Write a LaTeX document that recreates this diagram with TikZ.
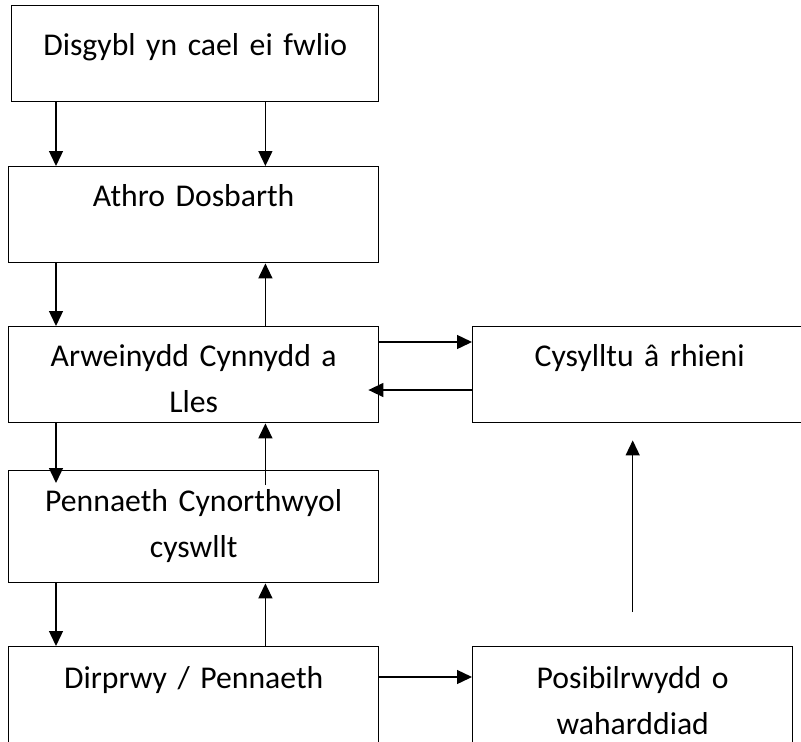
\documentclass[tikz,border=0pt]{standalone}
\usepackage{fontspec}
\setmainfont{Carlito}
\usetikzlibrary{arrows.meta}

\tikzset{stage/.style={draw, line width=1.4pt, inner sep=0pt, anchor=north west,
    text width=#1, align=center, text height=40pt, text depth=56pt},
  stage/.default=370pt}

\begin{document}
\begin{tikzpicture}[x=1pt, y=-1pt, line width=1.4pt,
    font=\fontsize{31.7pt}{46pt}\selectfont,
    >={Triangle[length=15pt,width=14pt]}]
            \useasboundingbox (0,0) rectangle (801,742);
            \draw (11,5)    node[stage=367pt, text height=50pt, text depth=46pt] (pupil) {Disgybl yn cael ei fwlio};
            \draw (8,166)   node[stage] (athro) {Athro Dosbarth};
            \draw (8,326)   node[stage] (arwein) {Arweinydd Cynnydd a\\Lles};
            \draw (472,326) node[stage=334pt] (rhieni) {Cysylltu â rhieni};
            \draw (8,470)   node[stage, text height=41pt, text depth=71pt] (cynorth) {Pennaeth Cynorthwyol\\cyswllt};
            \draw (8,646)   node[stage, text height=42pt, text depth=58pt] (dirprwy) {Dirprwy / Pennaeth};
            \draw (472,646) node[stage=320pt, text height=42pt, text depth=58pt] (gwahardd) {Posibilrwydd o\\waharddiad};
            % down the left side
            \draw[->] ([xshift=45]pupil.south west) -- ([xshift=48]athro.north west);
            \draw[->] ([xshift=-114]pupil.south east) -- ([xshift=-114]athro.north east);
            \draw[->] ([xshift=48]athro.south west) -- ([xshift=48]arwein.north west);
            \draw[->] ([xshift=48]arwein.south west) -- ([xshift=48,yshift=-13]cynorth.north west);
            \draw[->] ([xshift=48]cynorth.south west) -- ([xshift=48]dirprwy.north west);
            % back up
            \draw[->] ([xshift=-114]arwein.north east) -- ([xshift=-114]athro.south east);
            \draw[->] ([xshift=-114,yshift=-15]cynorth.north east) -- ([xshift=-114]arwein.south east);
            \draw[->] ([xshift=-114]dirprwy.north east) -- ([xshift=-114]cynorth.south east);
            % across to the right
            \draw[->] ([yshift=-16]arwein.north east) -- ([yshift=-16]rhieni.north west);
            \draw[->] ([yshift=-64]rhieni.north west) -- ([xshift=-11,yshift=-64]arwein.north east);
            \draw[->] ([yshift=-31]dirprwy.north east) -- ([yshift=-31]gwahardd.north west);
            \draw[->, shorten <=34pt, shorten >=17pt] (gwahardd.north) -- (gwahardd.north |- rhieni.south);
    \end{tikzpicture}
\end{document}
